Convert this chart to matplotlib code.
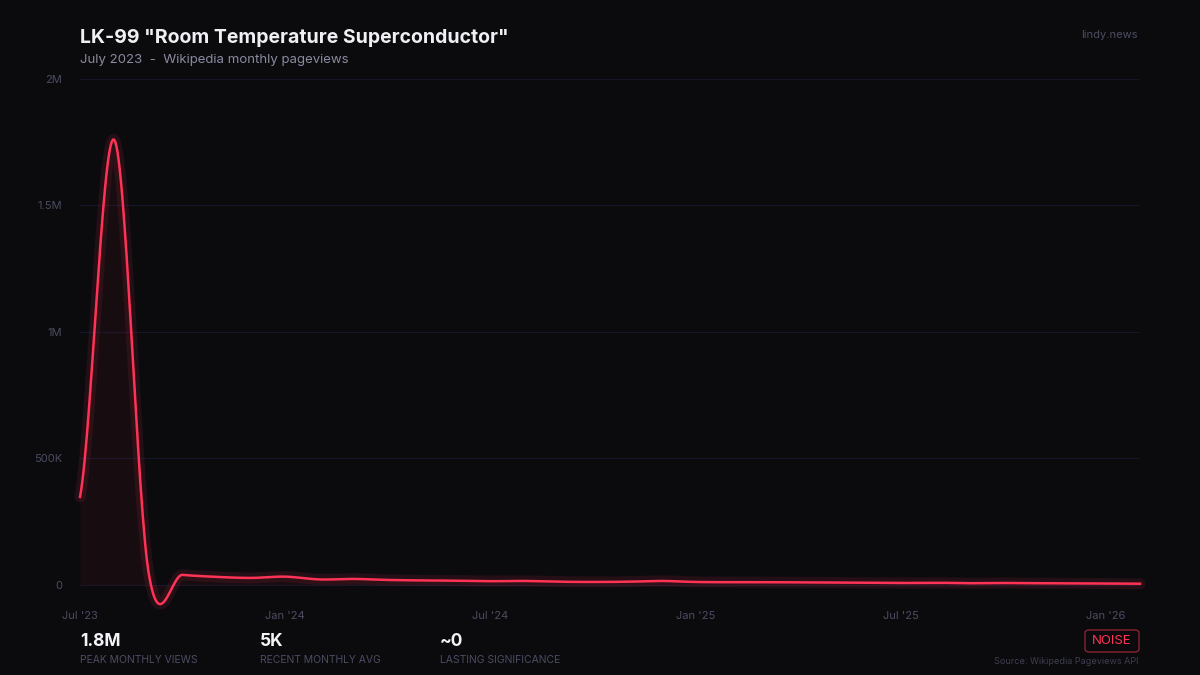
import matplotlib

matplotlib.use("Agg")
import matplotlib.pyplot as plt
import numpy as np
from matplotlib.patches import FancyBboxPatch

plt.rcParams["font.family"] = ["Inter", "DejaVu Sans"]

months = list(range(32))  # Jul 2023 .. Feb 2026
views = [348_000, 1_760_000, 55_000, 40_000, 32_000, 28_000, 33_000, 22_000,
         24_000, 20_000, 18_000, 17_000, 15_000, 16_000, 13_000, 12_000,
         13_000, 16_000, 12_000, 11_000, 11_000, 10_500, 10_000, 9_000,
         8_000, 9_000, 7_000, 8_000, 7_000, 6_500, 6_000, 5_000]
tick_months = [0, 6, 12, 18, 24, 30]
tick_labels = ["Jul '23", "Jan '24", "Jul '24", "Jan '25", "Jul '25", "Jan '26"]
y_ticks = [0, 500_000, 1_000_000, 1_500_000, 2_000_000]
y_labels = ["0", "500K", "1M", "1.5M", "2M"]
stats = [("1.8M", "PEAK MONTHLY VIEWS"), ("5K", "RECENT MONTHLY AVG"),
         ("~0", "LASTING SIGNIFICANCE")]

BG = "#0b0b0e"
RED = "#ff3355"
MUTED = "#4c4c62"


def catmull_rom(x, y, n=30):
    x = np.asarray(x, float)
    y = np.asarray(y, float)
    px = np.concatenate([[2 * x[0] - x[1]], x, [2 * x[-1] - x[-2]]])
    py = np.concatenate([[y[0]], y, [y[-1]]])
    xs, ys = [], []
    for i in range(1, len(px) - 2):
        t = np.linspace(0, 1, n, endpoint=False)
        for p, out in ((px, xs), (py, ys)):
            p0, p1, p2, p3 = p[i - 1], p[i], p[i + 1], p[i + 2]
            out.append(0.5 * (2 * p1 + (-p0 + p2) * t
                              + (2 * p0 - 5 * p1 + 4 * p2 - p3) * t ** 2
                              + (-p0 + 3 * p1 - 3 * p2 + p3) * t ** 3))
    xs.append([x[-1]])
    ys.append([y[-1]])
    return np.concatenate(xs), np.concatenate(ys)


fig = plt.figure(figsize=(12, 6.75), dpi=100, facecolor=BG)
ax = fig.add_axes([80 / 1200, 1 - 600 / 675, 1060 / 1200, 521 / 675])
ax.set_facecolor(BG)
sx, sy = catmull_rom(months, views)
ax.fill_between(sx, sy, 0, color=RED, alpha=0.05, lw=0)
ax.plot(sx, sy, color=RED, lw=8, alpha=0.1, solid_capstyle="round", clip_on=False)
ax.plot(sx, sy, color=RED, lw=1.8, clip_on=False)
ax.set_xlim(0, 31)
ax.set_ylim(-59_300, 2_000_000)
for v in y_ticks:
    ax.axhline(v, color="#15152a", lw=0.8, zorder=0)
ax.set_yticks(y_ticks, y_labels)
ax.set_xticks(tick_months, tick_labels)
ax.tick_params(colors=MUTED, labelsize=8, length=0, pad=13)
ax.tick_params(axis="x", pad=8)
for s in ax.spines.values():
    s.set_visible(False)

fig.text(80 / 1200, 1 - 38 / 675, 'LK-99 "Room Temperature Superconductor"',
         color="#f0f0f4", fontsize=14, fontweight="bold", va="center")
fig.text(80 / 1200, 1 - 60 / 675, "July 2023  -  Wikipedia monthly pageviews",
         color="#8a8aa0", fontsize=9.5, va="center")
fig.text(1138 / 1200, 1 - 35 / 675, "lindy.news", color=MUTED, fontsize=8,
         ha="right", va="center")
for i, (val, lab) in enumerate(stats):
    x = (80 + 180 * i) / 1200
    fig.text(x, 1 - 642 / 675, val, color="#f4f4f8", fontsize=12.5,
             fontweight="bold", va="center")
    fig.text(x, 1 - 660 / 675, lab, color=MUTED, fontsize=7.5, va="center")
box = FancyBboxPatch((1085 / 1200, 1 - 652 / 675), 54 / 1200, 22 / 675,
                     boxstyle="round,pad=0,rounding_size=0.004",
                     transform=fig.transFigure, fc="none", ec="#8a2233", lw=1)
fig.patches.append(box)
fig.text(1112 / 1200, 1 - 641 / 675, "NOISE", color=RED, fontsize=9.5,
         ha="center", va="center")
fig.text(1138 / 1200, 1 - 661 / 675, "Source: Wikipedia Pageviews API",
         color="#3e3e50", fontsize=6.5, ha="right", va="center")

fig.savefig("out.png", dpi=100, facecolor=BG)
